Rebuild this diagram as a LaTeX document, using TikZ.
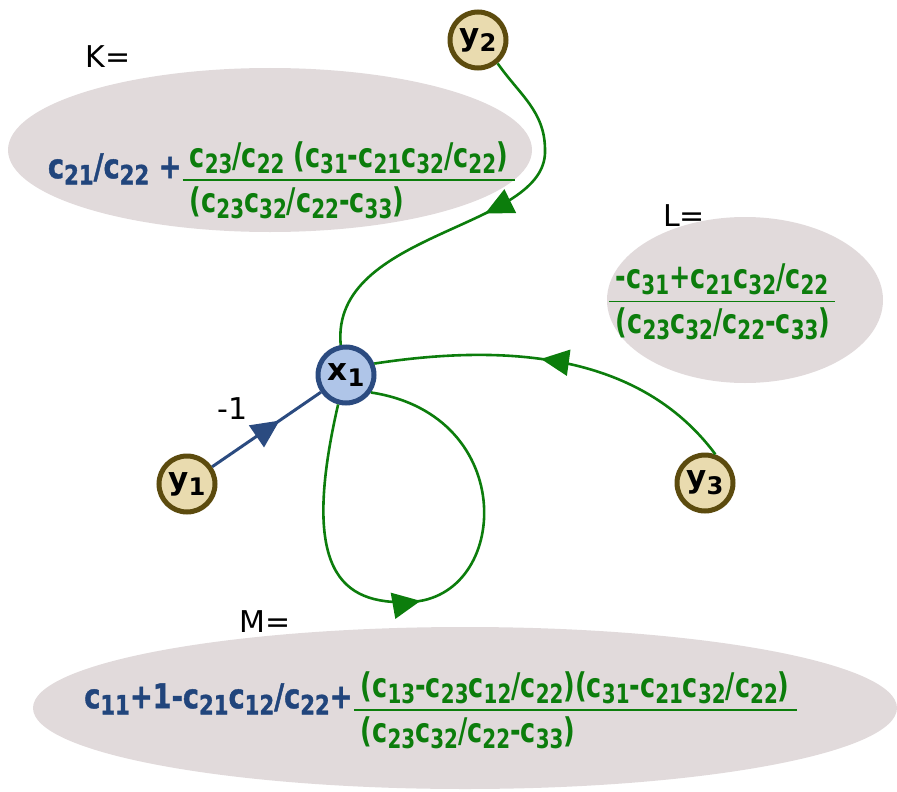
\documentclass[tikz,border=0pt]{standalone}
\usepackage{fontspec}
\usepackage{amsmath}
\setmainfont{DejaVu Sans}
\newfontfamily\formfont[FakeStretch=0.75]{DejaVu Sans}
\newfontfamily\bluefont[FakeStretch=0.8, FakeBold=1.2]{DejaVu Sans}
\usetikzlibrary{arrows.meta,decorations.markings,shapes.geometric}

\definecolor{blobgray}{HTML}{E1DADB}
\definecolor{ybrown}{HTML}{5C4B0E}
\definecolor{yfill}{HTML}{E9DBAF}
\definecolor{xblue}{HTML}{2B4B80}
\definecolor{xfill}{HTML}{AFC5E8}
\definecolor{navy}{HTML}{21457C}
\definecolor{sfgreen}{HTML}{0C7D0C}

\newlength\numw
\newcommand\cc[1]{c\raisebox{-0.18em}{\scalebox{0.78}{#1}}}
\newcommand\sub[1]{\raisebox{-0.22em}{\scalebox{0.78}{#1}}}
\newcommand\gfrac[2]{\settowidth\numw{#1}$\genfrac{}{}{1.8pt}{0}{\hbox{\hspace{7pt}#1\hspace{7pt}}}{\hbox to \dimexpr\numw+14pt\relax{\hspace{7pt}#2\hfil}}$}
\newcommand\bluepart[1]{\textcolor{navy}{\raisebox{8pt}{\bluefont\bfseries #1}}}

\begin{document}
\begin{tikzpicture}[x=1pt, y=1pt,
    ynode/.style={circle, draw=ybrown, fill=yfill, line width=5pt, minimum size=56pt, inner sep=0pt, font=\bfseries\fontsize{31}{31}\selectfont},
    xnode/.style={ynode, draw=xblue, fill=xfill},
    blob/.style={ellipse, fill=blobgray, inner sep=0pt},
    formula/.style={font=\formfont\bfseries\fontsize{34}{38}\selectfont, inner sep=0pt},
    eqlabel/.style={font=\fontsize{30}{30}\selectfont, inner sep=0pt},
    flow/.style={draw=sfgreen, line width=2.6pt},
    midarrow/.style={postaction={decorate}, decoration={markings, mark=at position #1 with {\arrow{Triangle[length=28pt,width=26pt]}}}}]
    \useasboundingbox (0,0) rectangle (897,-792);

    % gain blobs
    \node[blob, minimum width=524pt, minimum height=164pt] (Kblob) at (270,-150) {};
    \node[blob, minimum width=276pt, minimum height=166pt] (Lblob) at (745,-300) {};
    \node[blob, minimum width=864pt, minimum height=162pt] (Mblob) at (465,-708) {};

    \node[eqlabel] (Klab) at (108,-57) {K=};
    \node[eqlabel] (Llab) at (684,-216) {L=};
    \node[eqlabel] (Mlab) at (265,-622) {M=};

    \node[formula] (Kform) at (282,-180) {\bluepart{\cc{21}/\cc{22} +}\textcolor{sfgreen}{\gfrac{\cc{23}/\cc{22} (\cc{31}-\cc{21}\cc{32}/\cc{22})}{(\cc{23}\cc{32}/\cc{22}-\cc{33})}}};
    \node[formula] (Lform) at (722,-302) {\textcolor{sfgreen}{\gfrac{-\cc{31}+\cc{21}\cc{32}/\cc{22}}{(\cc{23}\cc{32}/\cc{22}-\cc{33})}}};
    \node[formula] (Mform) at (441,-710) {\bluepart{\cc{11}+1-\cc{21}\cc{12}/\cc{22}+}\textcolor{sfgreen}{\gfrac{(\cc{13}-\cc{23}\cc{12}/\cc{22})(\cc{31}-\cc{21}\cc{32}/\cc{22})}{(\cc{23}\cc{32}/\cc{22}-\cc{33})}}};

    % variables
    \node[xnode] (x1) at (346,-375) {x\sub{1}};
    \node[ynode] (y1) at (187,-484) {y\sub{1}};
    \node[ynode] (y2) at (478,-40) {y\sub{2}};
    \node[ynode] (y3) at (705,-483) {y\sub{3}};

    % branches
    \draw[draw=xblue, line width=3pt, midarrow=0.62] (y1) -- node[pos=0.5, xshift=-34pt, yshift=21pt] (gain) {\fontsize{30}{30}\selectfont -1} (x1);
    \draw[flow, midarrow=0.48] (y2.-50) to[out=-55, in=90] (545,-150) .. controls (548,-230) and (330,-230) .. (x1.100);
    \draw[flow, midarrow=0.55] (y3.70) .. controls (660,-380) and (560,-335) .. (x1.22);
    \draw[flow, midarrow=0.47] (x1.-105) .. controls (300,-570) and (340,-605) .. (410,-602) .. controls (510,-598) and (520,-415) .. (x1.-35);
\end{tikzpicture}
\end{document}
